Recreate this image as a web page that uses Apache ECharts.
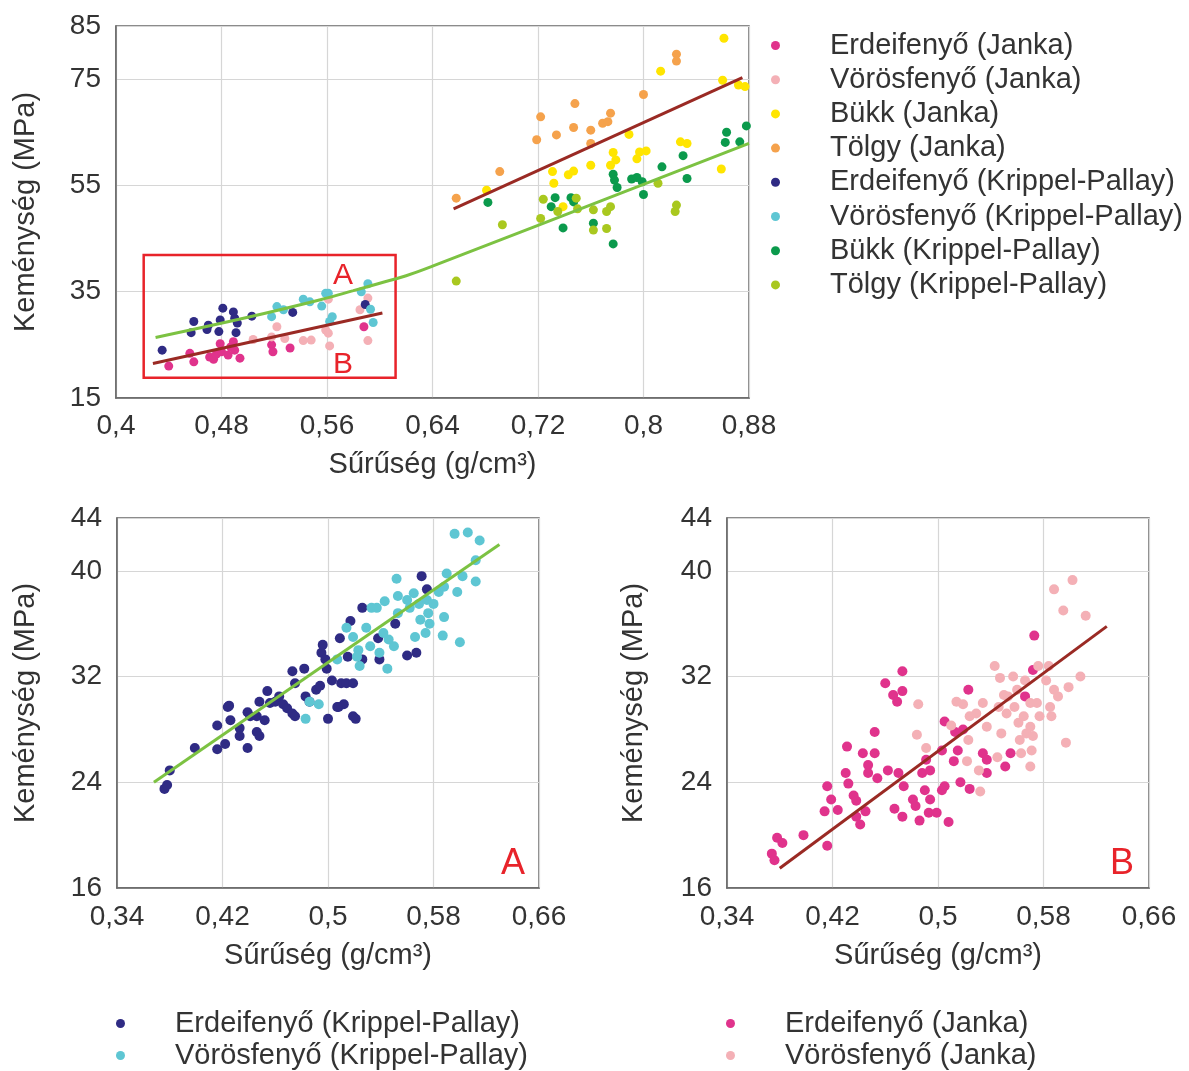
<!DOCTYPE html>
<html><head><meta charset="utf-8">
<script src="https://cdn.jsdelivr.net/npm/echarts@6/dist/echarts.min.js"></script>
<style>html,body{margin:0;padding:0;background:#fff}#c{width:1189px;height:1071px}</style>
</head><body><div id="c"></div>
<script>
// ---------- Series names ----------
const NAMES = ['Erdeifenyő (Janka)','Vörösfenyő (Janka)','Bükk (Janka)','Tölgy (Janka)',
  'Erdeifenyő (Krippel-Pallay)','Vörösfenyő (Krippel-Pallay)','Bükk (Krippel-Pallay)','Tölgy (Krippel-Pallay)'];
const xAxisName = 'Sűrűség (g/cm³)';
const yAxisName = 'Keménység (MPa)';

// ---------- Top chart data [density, hardness] ----------
const erdeiJankaTop = [[0.440,21.0],[0.456,23.4],[0.459,21.8],[0.471,22.7],[0.474,22.3],[0.476,23.2],[0.479,25.2],[0.480,23.7],[0.485,23.1],[0.487,24.6],[0.489,25.6],[0.490,24.0],[0.494,22.5],[0.518,25.0],[0.519,23.7],[0.532,24.4],[0.588,28.4]];
const vorosJankaTop = [[0.504,26.0],[0.518,26.5],[0.522,28.4],[0.528,26.2],[0.542,25.8],[0.548,25.9],[0.559,27.8],[0.561,27.2],[0.562,24.8],[0.561,33.6],[0.585,31.6],[0.591,33.8],[0.591,25.8]];
const bukkJankaTop = [[0.861,82.7],[0.860,74.8],[0.872,73.9],[0.877,73.6],[0.813,76.5],[0.789,64.6],[0.828,63.2],[0.833,62.9],[0.859,58.1],[0.797,61.3],[0.802,61.5],[0.795,60.0],[0.777,61.2],[0.779,59.8],[0.775,58.8],[0.760,58.8],[0.747,57.7],[0.743,57.0],[0.731,57.6],[0.732,55.4],[0.681,54.1],[0.739,51.0]];
const tolgyJankaTop = [[0.658,52.6],[0.691,57.6],[0.719,63.6],[0.722,67.9],[0.734,64.5],[0.748,70.4],[0.747,65.9],[0.760,65.4],[0.760,62.9],[0.769,66.7],[0.773,67.0],[0.775,68.6],[0.800,72.1],[0.825,79.7],[0.825,78.4]];
const erdeiKPTop = [[0.435,24.0],[0.459,29.4],[0.457,27.3],[0.470,28.7],[0.469,27.9],[0.479,29.7],[0.478,27.5],[0.481,31.9],[0.489,31.2],[0.490,30.0],[0.492,29.1],[0.491,27.3],[0.503,30.4],[0.534,31.1],[0.589,32.6]];
const vorosKPTop = [[0.518,30.3],[0.522,32.2],[0.527,31.6],[0.542,33.6],[0.547,33.1],[0.556,32.3],[0.559,34.7],[0.561,34.7],[0.564,30.3],[0.562,29.4],[0.586,35.0],[0.591,36.5],[0.593,31.7],[0.595,29.2]];
const bukkKPTop = [[0.682,51.8],[0.733,52.7],[0.730,51.0],[0.739,47.0],[0.745,52.7],[0.747,51.9],[0.762,47.9],[0.777,44.0],[0.777,57.1],[0.778,56.0],[0.780,54.6],[0.791,56.2],[0.795,56.5],[0.799,55.7],[0.800,53.3],[0.814,58.5],[0.830,60.6],[0.833,56.3],[0.863,65.0],[0.862,63.1],[0.873,63.2],[0.878,66.2]];
const tolgyKPTop = [[0.658,37.0],[0.693,47.6],[0.722,48.8],[0.724,52.4],[0.735,50.1],[0.749,52.6],[0.750,50.6],[0.762,50.4],[0.762,46.6],[0.772,46.9],[0.772,50.1],[0.775,51.0],[0.811,55.4],[0.825,51.3],[0.824,50.1]];
// trend lines (top)
const trendJankaSoft = [[0.428,21.5],[0.602,31.0]];
const trendJankaHard = [[0.656,50.6],[0.875,75.3]];
const trendKP = [[0.430,26.4],[0.500,30.2],[0.555,33.5],[0.580,35.2],[0.600,36.6],[0.620,38.0],[0.640,39.8],[0.880,62.9]];
// highlighted region in the top chart (corners)
const boxRegion = [[0.421,41.9],[0.612,18.8]];

// ---------- Bottom-left (A) data ----------
const erdeiKP_A = [[0.376,23.5],[0.378,23.8],[0.380,24.9],[0.399,26.6],[0.416,26.5],[0.422,26.9],[0.416,28.3],[0.425,29.8],[0.426,28.7],[0.433,28.1],[0.433,27.5],[0.439,26.6],[0.439,29.3],[0.441,29.0],[0.446,27.8],[0.448,27.5],[0.446,29.0],[0.448,30.1],[0.452,28.7],[0.454,30.9],[0.456,30.0],[0.460,30.1],[0.463,30.5],[0.466,29.9],[0.469,29.6],[0.473,29.2],[0.475,29.0],[0.473,32.4],[0.475,31.5],[0.482,32.6],[0.483,30.5],[0.486,30.1],[0.491,31.0],[0.494,31.3],[0.495,33.8],[0.496,34.4],[0.498,33.3],[0.499,32.6],[0.503,31.7],[0.500,28.8],[0.508,29.7],[0.512,29.9],[0.509,34.9],[0.510,31.5],[0.514,31.5],[0.519,31.5],[0.515,33.5],[0.521,28.8],[0.517,36.2],[0.526,33.3],[0.526,37.2],[0.538,34.9],[0.539,33.3],[0.551,36.0],[0.560,33.6],[0.567,33.8],[0.571,39.6],[0.575,38.6],[0.507,29.7],[0.519,29.0],[0.424,29.7]];
const vorosKP_A = [[0.483,28.8],[0.486,30.1],[0.493,29.9],[0.507,33.3],[0.514,35.7],[0.519,35.0],[0.523,34.0],[0.524,32.8],[0.529,35.7],[0.532,34.3],[0.533,37.2],[0.537,37.2],[0.543,37.7],[0.545,32.6],[0.546,34.8],[0.550,34.3],[0.552,39.4],[0.553,38.1],[0.553,36.8],[0.560,37.8],[0.562,37.2],[0.565,38.3],[0.566,35.0],[0.569,37.5],[0.570,36.3],[0.574,35.3],[0.575,37.8],[0.576,36.8],[0.577,36.0],[0.580,37.5],[0.584,38.4],[0.588,38.8],[0.590,39.8],[0.588,36.5],[0.587,35.1],[0.598,38.4],[0.600,34.6],[0.602,39.6],[0.612,39.2],[0.612,40.8],[0.596,42.8],[0.606,42.9],[0.615,42.3],[0.542,35.3],[0.539,33.8],[0.522,33.5]];
const trendA = [[0.368,24.0],[0.630,42.0]];

// ---------- Bottom-right (B) data ----------
const erdeiJanka_B = [[0.374,18.6],[0.376,18.1],[0.378,19.8],[0.382,19.4],[0.398,20.0],[0.416,19.2],[0.416,23.7],[0.414,21.8],[0.419,22.7],[0.424,21.9],[0.431,26.7],[0.430,24.7],[0.432,23.9],[0.436,23.0],[0.438,22.6],[0.438,21.4],[0.441,20.8],[0.445,21.8],[0.443,26.2],[0.447,25.3],[0.447,24.7],[0.452,27.8],[0.452,26.2],[0.454,24.3],[0.460,31.5],[0.466,30.6],[0.469,30.1],[0.473,30.9],[0.473,32.4],[0.462,24.9],[0.467,22.0],[0.473,21.4],[0.470,24.7],[0.474,23.7],[0.481,22.7],[0.483,22.2],[0.486,21.1],[0.490,23.4],[0.494,22.7],[0.493,21.7],[0.499,21.7],[0.488,24.7],[0.491,25.7],[0.494,24.9],[0.503,23.4],[0.505,23.7],[0.508,21.0],[0.503,26.4],[0.505,28.6],[0.513,27.8],[0.519,28.0],[0.512,25.6],[0.515,26.4],[0.517,24.0],[0.524,23.5],[0.523,31.0],[0.534,26.2],[0.537,25.7],[0.537,24.7],[0.551,25.2],[0.555,26.2],[0.566,30.5],[0.572,32.5],[0.573,35.1]];
const vorosJanka_B = [[0.485,29.9],[0.484,27.6],[0.491,26.6],[0.510,28.3],[0.514,30.1],[0.519,29.9],[0.523,27.2],[0.524,29.0],[0.522,25.6],[0.529,29.2],[0.531,24.9],[0.532,23.3],[0.534,30.0],[0.537,28.2],[0.543,32.8],[0.545,25.9],[0.546,29.7],[0.547,31.9],[0.548,27.7],[0.550,30.6],[0.552,29.2],[0.553,30.5],[0.557,32.0],[0.558,29.7],[0.560,31.0],[0.561,28.5],[0.562,27.2],[0.563,26.2],[0.565,29.0],[0.566,31.7],[0.567,27.7],[0.570,30.0],[0.570,28.2],[0.571,26.4],[0.570,25.2],[0.572,27.5],[0.575,30.0],[0.576,32.8],[0.577,29.0],[0.584,32.8],[0.582,31.7],[0.585,29.7],[0.586,29.0],[0.588,31.0],[0.591,30.5],[0.599,31.2],[0.608,32.0],[0.597,27.0],[0.588,38.6],[0.602,39.3],[0.595,37.0],[0.612,36.6]];
const trendB = [[0.380,17.5],[0.628,35.8]];

// ---------- Colours ----------
const COLORS = {
  erdeiJanka:'#e0338c', vorosJanka:'#f4b0b6', bukkJanka:'#ffe500', tolgyJanka:'#f5a24c',
  erdeiKP:'#2f2b84', vorosKP:'#5ec6d3', bukkKP:'#0b9a4c', tolgyKP:'#a9c81f'
};
const BROWN = '#9a2a24', GREEN = '#7cc242', RED = '#e8232a';
const FONT = 'Liberation Sans, Arial, Helvetica, sans-serif';

const fmtX = v => String(Math.round(v*100)/100).replace('.', ',');

function xAxis(grid, min, max, interval, labelMargin){
  return {type:'value', gridIndex:grid, min, max, interval,
    name:xAxisName, nameLocation:'middle', nameGap:labelMargin + 38,
    nameTextStyle:{fontSize:29, color:'#333', fontFamily:FONT},
    axisLine:{show:true, lineStyle:{color:'#666', width:1.5}},
    axisTick:{show:false},
    axisLabel:{fontSize:28, color:'#333', fontFamily:FONT, margin:labelMargin, formatter:fmtX},
    splitLine:{show:true, lineStyle:{color:'#d6d6d6', width:1.2}}};
}
function yAxis(grid, min, max, interval, gap){
  return {type:'value', gridIndex:grid, min, max, interval,
    name:yAxisName, nameLocation:'middle', nameGap:gap, nameRotate:90,
    nameTextStyle:{fontSize:29, color:'#333', fontFamily:FONT},
    axisLine:{show:true, lineStyle:{color:'#666', width:1.5}},
    axisTick:{show:false},
    axisLabel:{fontSize:28, color:'#333', fontFamily:FONT, margin:15},
    splitLine:{show:true, lineStyle:{color:'#d6d6d6', width:1.2}}};
}
function sc(name, data, color, axis, size){
  return {type:'scatter', name, data, xAxisIndex:axis, yAxisIndex:axis,
    symbol:'circle', symbolSize:size, itemStyle:{color, opacity:1}, z:2, silent:true};
}
function ln(data, color, axis, smooth){
  return {type:'line', data, xAxisIndex:axis, yAxisIndex:axis, showSymbol:false, symbol:'none',
    smooth:smooth||false, lineStyle:{color, width:3}, z:3, silent:true};
}

const boxSeries = ln(trendJankaSoft, BROWN, 0);
boxSeries.markArea = {silent:true, itemStyle:{color:'rgba(0,0,0,0)', borderColor:RED, borderWidth:2.5},
  data:[[{coord:boxRegion[0]},{coord:boxRegion[1]}]]};

function legend(left, top, data, gap){
  return {orient:'vertical', icon:'circle', itemWidth:9, itemHeight:9, padding:0,
    left, top, data, itemGap:gap, selectedMode:false,
    textStyle:{fontSize:29, color:'#333', fontFamily:FONT, lineHeight:29, padding:[0,0,0,45]}};
}

const option = {
  backgroundColor:'#fff',
  animation:false,
  textStyle:{fontFamily:FONT},
  grid:[
    {left:116, top:26, width:633, height:372, show:true, borderColor:'#666', borderWidth:1.5, backgroundColor:'#fff'},
    {left:117, top:518, width:422, height:370, show:true, borderColor:'#666', borderWidth:1.5, backgroundColor:'#fff'},
    {left:727, top:518, width:422, height:370, show:true, borderColor:'#666', borderWidth:1.5, backgroundColor:'#fff'}
  ],
  xAxis:[xAxis(0,0.4,0.88,0.08,14), xAxis(1,0.34,0.66,0.08,15), xAxis(2,0.34,0.66,0.08,15)],
  yAxis:[yAxis(0,15,85,20,76), yAxis(1,16,44,8,77), yAxis(2,16,44,8,79)],
  legend:[
    legend(771, 31, NAMES, 5.2),
    legend(116, 1009, [NAMES[4], NAMES[5]], 3),
    legend(726, 1009, [NAMES[0], NAMES[1]], 3)
  ],
  series:[
    sc(NAMES[0], erdeiJankaTop, COLORS.erdeiJanka, 0, 9),
    sc(NAMES[1], vorosJankaTop, COLORS.vorosJanka, 0, 9),
    sc(NAMES[2], bukkJankaTop, COLORS.bukkJanka, 0, 9),
    sc(NAMES[3], tolgyJankaTop, COLORS.tolgyJanka, 0, 9),
    sc(NAMES[4], erdeiKPTop, COLORS.erdeiKP, 0, 9),
    sc(NAMES[5], vorosKPTop, COLORS.vorosKP, 0, 9),
    sc(NAMES[6], bukkKPTop, COLORS.bukkKP, 0, 9),
    sc(NAMES[7], tolgyKPTop, COLORS.tolgyKP, 0, 9),
    boxSeries,
    ln(trendJankaHard, BROWN, 0),
    ln(trendKP, GREEN, 0, 0.4),
    sc(NAMES[4], erdeiKP_A, COLORS.erdeiKP, 1, 10),
    sc(NAMES[5], vorosKP_A, COLORS.vorosKP, 1, 10),
    ln(trendA, GREEN, 1),
    sc(NAMES[0], erdeiJanka_B, COLORS.erdeiJanka, 2, 10),
    sc(NAMES[1], vorosJanka_B, COLORS.vorosJanka, 2, 10),
    ln(trendB, BROWN, 2)
  ],
  graphic:[
    {type:'text', left:333, top:261, style:{text:'A', fontSize:30, fill:RED, fontFamily:FONT}, z:10},
    {type:'text', left:333, top:350, style:{text:'B', fontSize:30, fill:RED, fontFamily:FONT}, z:10},
    {type:'text', left:501, top:846, style:{text:'A', fontSize:36, fill:RED, fontFamily:FONT}, z:10},
    {type:'text', left:1110, top:846, style:{text:'B', fontSize:36, fill:RED, fontFamily:FONT}, z:10}
  ]
};
const chart = echarts.init(document.getElementById('c'));
chart.setOption(option);
</script>
</body></html>
